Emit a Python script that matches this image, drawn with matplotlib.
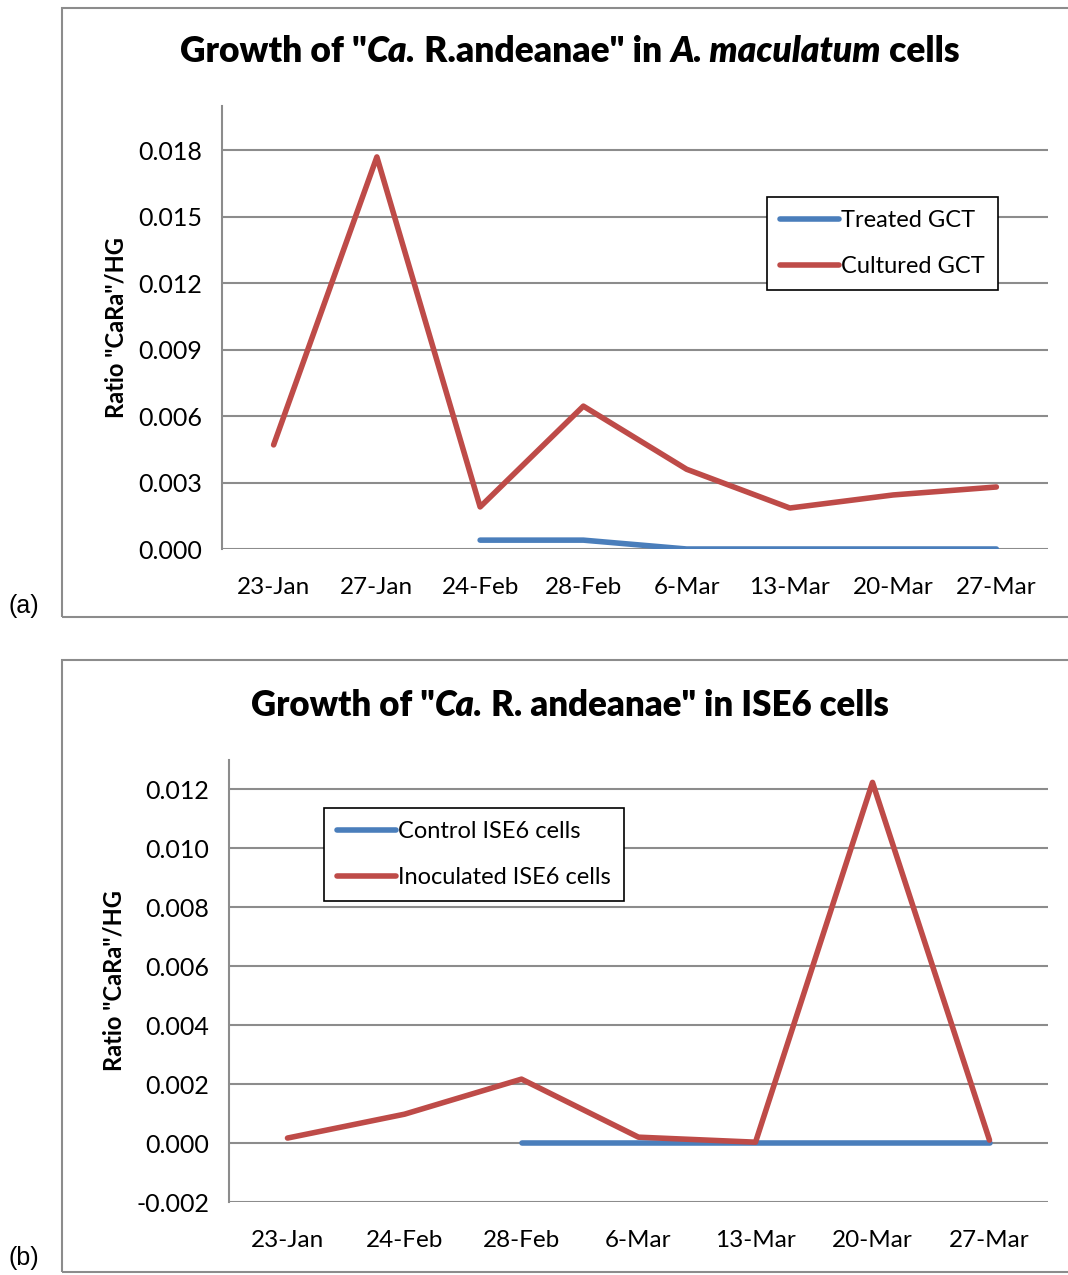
import numpy as np
import matplotlib
matplotlib.use("Agg")
import matplotlib.pyplot as plt
from matplotlib.patches import Rectangle

plt.rcParams['font.family'] = ['Lato', 'DejaVu Sans']

# ---- data
dates_a = ['23-Jan', '27-Jan', '24-Feb', '28-Feb', '6-Mar', '13-Mar', '20-Mar', '27-Mar']
treated_gct = [np.nan, np.nan, 0.0004, 0.0004, 0.0, 0.0, 0.0, 0.0]
cultured_gct = [0.0047, 0.0177, 0.0019, 0.00645, 0.0036, 0.00185, 0.00244, 0.0028]

dates_b = ['23-Jan', '24-Feb', '28-Feb', '6-Mar', '13-Mar', '20-Mar', '27-Mar']
control_ise6 = [np.nan, np.nan, 0.0, 0.0, 0.0, 0.0, 0.0]
inoculated_ise6 = [0.00017, 0.00098, 0.00217, 0.0002, 0.00003, 0.01224, 0.0001]

yticks_a = [0.000, 0.003, 0.006, 0.009, 0.012, 0.015, 0.018]
yticks_b = [-0.002, 0.000, 0.002, 0.004, 0.006, 0.008, 0.010, 0.012]

BLUE = '#4A7EBB'
RED = '#BE4B48'
GRID = '#8C8C8C'

W, H = 1068, 1275
fig = plt.figure(figsize=(W / 100, H / 100), dpi=100)


def fx(px):
    return px / W


def fy(py):
    return 1 - py / H


# outer chart frames
for top, bot in [(8, 617), (660, 1272)]:
    fig.patches.append(Rectangle((fx(62), fy(bot)), fx(1200), fy(top) - fy(bot),
                                 transform=fig.transFigure, fill=False,
                                 edgecolor='#8C8C8C', lw=1.5))


def title_pieces(pieces, cx, cy, size):
    # draw bold text made of upright / italic parts, centred on cx
    r = fig.canvas.get_renderer()
    arts = []
    for s, style in pieces:
        t = fig.text(0, fy(cy), s, fontsize=size, fontweight='heavy', style=style,
                     ha='left', va='center')
        arts.append(t)
    widths = [a.get_window_extent(r).width for a in arts]
    x = cx - sum(widths) / 2
    for a, w in zip(arts, widths):
        a.set_x(fx(x))
        x += w


def setup(ax, cats, ymin, ymax, ticks, ylabel):
    ax.set_xlim(-0.5, len(cats) - 0.5)
    ax.set_ylim(ymin, ymax)
    ax.set_xticks(range(len(cats)))
    ax.set_xticklabels(cats)
    ax.set_yticks(ticks)
    ax.set_yticklabels(['%.3f' % v for v in ticks])
    for v in ticks:
        ax.axhline(v, color=GRID, lw=1.5, zorder=0)
    for s in ['top', 'right', 'bottom']:
        ax.spines[s].set_visible(False)
    ax.spines['left'].set_color(GRID)
    ax.spines['left'].set_linewidth(1.5)
    ax.tick_params(length=0, labelsize=18, pad=14)
    ax.tick_params(axis='x', labelsize=17.5, pad=20)
    ax.set_ylabel(ylabel, fontsize=17, fontweight='bold', labelpad=8)


def legend(ax, left, top):
    lg = ax.legend(loc='upper left', bbox_to_anchor=(fx(left), fy(top)), bbox_transform=fig.transFigure,
                   fontsize=17, frameon=True, fancybox=False, edgecolor='black', framealpha=1,
                   handlelength=2.5, handletextpad=0.1, labelspacing=1.05, borderpad=0.55,
                   borderaxespad=0)
    lg.get_frame().set_linewidth(1.2)


# ---- panel (a)
ax1 = fig.add_axes([fx(222), fy(549), fx(1048 - 222), fy(106) - fy(549)])
x = np.arange(len(dates_a))
ax1.plot(x, treated_gct, color=BLUE, lw=4, solid_capstyle='round', label='Treated GCT')
ax1.plot(x, cultured_gct, color=RED, lw=4, solid_capstyle='round', label='Cultured GCT')
setup(ax1, dates_a, 0.0, 0.020, yticks_a, 'Ratio "CaRa"/HG')
legend(ax1, 767, 197)

# ---- panel (b)
ax2 = fig.add_axes([fx(229), fy(1202), fx(1048 - 229), fy(760) - fy(1202)])
x = np.arange(len(dates_b))
ax2.plot(x, control_ise6, color=BLUE, lw=4, solid_capstyle='round', label='Control ISE6 cells')
ax2.plot(x, inoculated_ise6, color=RED, lw=4, solid_capstyle='round', label='Inoculated ISE6 cells')
setup(ax2, dates_b, -0.002, 0.013, yticks_b, 'Ratio "CaRa"/HG')
legend(ax2, 324, 808)

title_pieces([('Growth of "', 'normal'), ('Ca.', 'italic'), (' R.andeanae" in ', 'normal'),
              ('A. maculatum', 'italic'), (' cells', 'normal')], 570, 52, 25.5)
title_pieces([('Growth of "', 'normal'), ('Ca.', 'italic'), (' R. andeanae" in ISE6 cells', 'normal')],
             570, 705, 25)

fig.text(fx(8), fy(606), '(a)', fontsize=18, family='Liberation Sans', va='center')
fig.text(fx(8), fy(1258), '(b)', fontsize=18, family='Liberation Sans', va='center')

fig.savefig('out.png', dpi=100)
